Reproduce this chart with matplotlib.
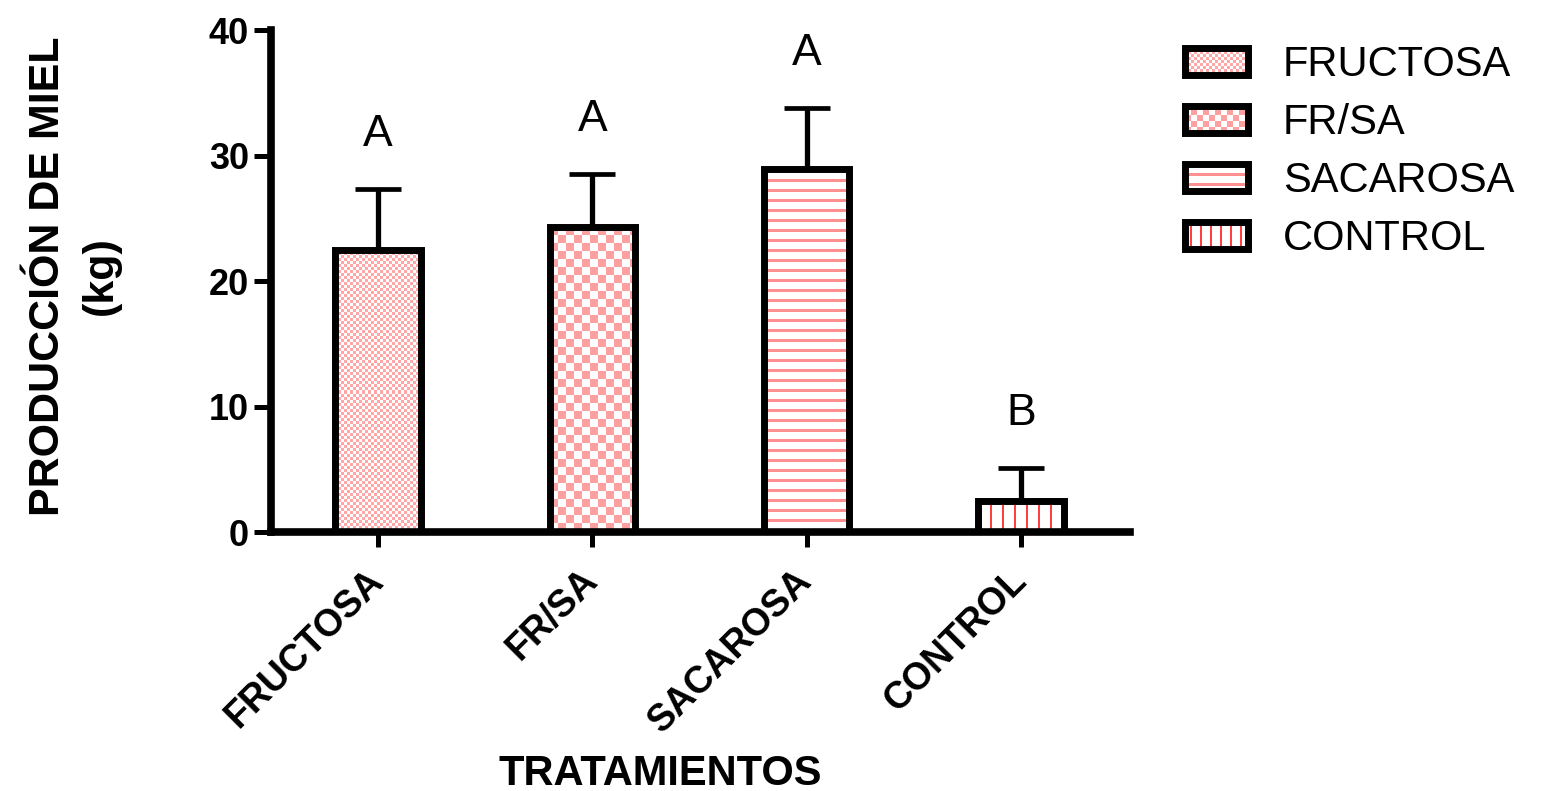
import numpy as np
import matplotlib
matplotlib.use("Agg")
import matplotlib.pyplot as plt
from matplotlib.colors import to_rgb
from matplotlib.patches import Rectangle
from matplotlib.legend_handler import HandlerBase

plt.rcParams['font.family'] = ['Liberation Sans', 'DejaVu Sans']

treatments = ['FRUCTOSA', 'FR/SA', 'SACAROSA', 'CONTROL']
honey_kg = [22.5, 24.3, 28.9, 2.5]
sd_kg = [4.8, 4.2, 4.9, 2.6]
groups = ['A', 'A', 'A', 'B']

# fill pattern of each treatment: kind, period (px), line (px), colour
patterns = {
    'FRUCTOSA': ('checker', 3, 3, '#ffa6a6'),
    'FR/SA': ('checker', 8, 8, '#ffa0a0'),
    'SACAROSA': ('hlines', 10, 3, '#ff9090'),
    'CONTROL': ('vlines', 12, 2, '#ff4040'),
}
legend_period = {'FRUCTOSA': 3, 'FR/SA': 6, 'SACAROSA': 10, 'CONTROL': 10}


def pattern_mask(kind, period, thick, h, w):
    yy, xx = np.mgrid[0:h, 0:w]
    if kind == 'checker':
        return (yy // period + xx // period) % 2 == 0
    if kind == 'hlines':
        return (yy % period) < thick
    return (xx % period) < thick


class PatternHandler(HandlerBase):
    def create_artists(self, legend, orig_handle, xdescent, ydescent,
                       width, height, fontsize, trans):
        name = orig_handle.get_label()
        kind, _, thick, colour = patterns[name]
        p = legend_period[name] * 0.72
        t = thick * 0.72
        x0, y0 = -xdescent, -ydescent
        out = [Rectangle((x0, y0), width, height, facecolor='white',
                         edgecolor='none', transform=trans)]
        if kind == 'checker':
            nx, ny = int(np.ceil(width / p)), int(np.ceil(height / p))
            for i in range(nx):
                for j in range(ny):
                    if (i + j) % 2 == 0:
                        w = min(p, width - i * p)
                        h = min(p, height - j * p)
                        out.append(Rectangle((x0 + i * p, y0 + j * p), w, h,
                                             facecolor=colour, edgecolor='none',
                                             transform=trans))
        elif kind == 'hlines':
            yy = y0 + p / 2
            while yy < y0 + height:
                out.append(Rectangle((x0, yy), width, t, facecolor=colour,
                                     edgecolor='none', transform=trans))
                yy += p
        else:
            xx = x0 + p / 2
            while xx < x0 + width:
                out.append(Rectangle((xx, y0), t, height, facecolor=colour,
                                     edgecolor='none', transform=trans))
                xx += p
        out.append(Rectangle((x0, y0), width, height, fill=False,
                             edgecolor='black', linewidth=5, transform=trans))
        return out


fig = plt.figure(figsize=(15.48, 7.91), dpi=100)
ax = fig.add_axes([0.1751, 0.3274, 0.5549, 0.6346])

x = np.arange(len(treatments))
bars = ax.bar(x, honey_kg, width=0.40, facecolor='none', edgecolor='black',
              linewidth=5, zorder=3)
ax.errorbar(x, honey_kg, yerr=[np.zeros(len(x)), sd_kg], fmt='none',
            ecolor='black', elinewidth=3.8, capsize=16.5, capthick=3.4, zorder=2)
ax.set_xlim(-0.5, 3.51)
ax.set_ylim(0, 40)

# patterned fill drawn as an image inside each bar
for bar, name in zip(bars, treatments):
    kind, period, thick, colour = patterns[name]
    bb = bar.get_window_extent()
    w, h = int(round(bb.width)), int(round(bb.height))
    img = np.ones((h, w, 3))
    img[pattern_mask(kind, period, thick, h, w)] = to_rgb(colour)
    ax.imshow(img, extent=(bar.get_x(), bar.get_x() + bar.get_width(), 0, bar.get_height()),
              origin='upper', interpolation='nearest', aspect='auto', zorder=2.5)
ax.set_xlim(-0.5, 3.51)
ax.set_ylim(0, 40)

for xi, top, g in zip(x, np.add(honey_kg, sd_kg), groups):
    ax.annotate(g, (xi, top), xytext=(0, 31), textcoords='offset points',
                ha='center', va='baseline', fontsize=32)

for s in ['top', 'right']:
    ax.spines[s].set_visible(False)
for s in ['left', 'bottom']:
    ax.spines[s].set_linewidth(5.5)

ax.set_yticks([0, 10, 20, 30, 40])
ax.tick_params(axis='y', direction='out', length=12, width=3.6, labelsize=26, pad=4)
ax.tick_params(axis='x', direction='out', length=11, width=3.6, pad=20)
ax.set_xticks(x)
ax.set_xticklabels(treatments, rotation=45, ha='right', va='center',
                   rotation_mode='anchor', fontsize=27, fontweight='bold')
for lab in ax.get_yticklabels():
    lab.set_fontweight('bold')

ax.set_ylabel('PRODUCCIÓN DE MIEL\n(kg)', fontsize=31, fontweight='bold',
              va='center', linespacing=1.42)
ax.yaxis.set_label_coords(-0.229, 0.51)
ax.set_xlabel('TRATAMIENTOS', fontsize=30, fontweight='bold', va='center')
ax.xaxis.set_label_coords(0.453, -0.482)

proxies = [Rectangle((0, 0), 1, 1, label=t) for t in treatments]
fig.legend(handles=proxies, labels=treatments, handler_map={Rectangle: PatternHandler()},
           loc='upper left', bbox_to_anchor=(0.7655, 0.943), frameon=False,
           fontsize=30, handlelength=1.51, handleheight=0.62, handletextpad=0.84,
           labelspacing=0.43, borderpad=0, borderaxespad=0)

fig.savefig('out.png', dpi=100)
